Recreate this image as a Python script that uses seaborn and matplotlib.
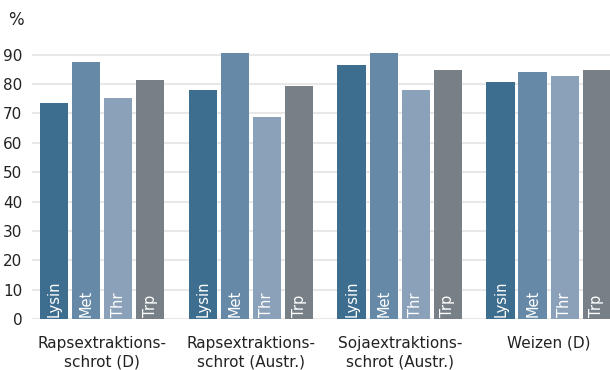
import matplotlib
matplotlib.use("Agg")
import matplotlib.pyplot as plt
import seaborn as sns
import pandas as pd

categories = ["Rapsextraktions-\nschrot (D)", "Rapsextraktions-\nschrot (Austr.)",
              "Sojaextraktions-\nschrot (Austr.)", "Weizen (D)"]
amino = ["Lysin", "Met", "Thr", "Trp"]
lysin = [73.5, 78.1, 86.5, 80.7]
met = [87.5, 90.5, 90.5, 84.1]
thr = [75.2, 68.7, 78.1, 82.7]
trp = [81.4, 79.5, 84.8, 84.8]
yticks = [0, 10, 20, 30, 40, 50, 60, 70, 80, 90]
colors = ["#3d6e8f", "#6589a7", "#8ba1ba", "#768086"]

rows = []
for name, vals in zip(amino, [lysin, met, thr, trp]):
    for c, v in zip(categories, vals):
        rows.append({"cat": c, "aa": name, "val": v})
df = pd.DataFrame(rows)

sns.set_theme(style="white")
plt.rcParams["font.family"] = ["DejaVu Sans"]

fig = plt.figure(figsize=(6.1, 3.7), dpi=100)
ax = fig.add_axes([32/610, 1-319/370, 1-32/610, (319-40)/370])
sns.barplot(data=df, x="cat", y="val", hue="aa", hue_order=amino, order=categories,
            palette=colors, width=0.86, gap=0.1, saturation=1, legend=False,
            errorbar=None, ax=ax, zorder=3, linewidth=0)

for cont, name in zip(ax.containers, amino):
    for bar in cont:
        ax.text(bar.get_x() + bar.get_width()/2, 0.8, name, rotation=90,
                ha="center", va="bottom", color="white", fontsize=10.5, zorder=4)

ax.set_ylim(0, 95)
ax.set_xlim(-0.47, 3.41)
ax.set_yticks(yticks)
ax.yaxis.grid(True, color="#e8e8e8", linewidth=1.5, zorder=0)
ax.set_axisbelow(True)
for s in ax.spines.values():
    s.set_visible(False)
ax.set_xlabel("")
ax.set_ylabel("")
ax.tick_params(axis="y", length=0, pad=7, labelsize=11, labelcolor="#222222")
ax.tick_params(axis="x", length=0, pad=12, labelsize=11, labelcolor="#222222")
for t in ax.get_xticklabels():
    t.set_linespacing(1.35)
fig.text(8/610, 1-11/370, "%", ha="left", va="top", fontsize=12, color="#222222",
         fontweight="medium")
fig.savefig("out.png", dpi=100)
